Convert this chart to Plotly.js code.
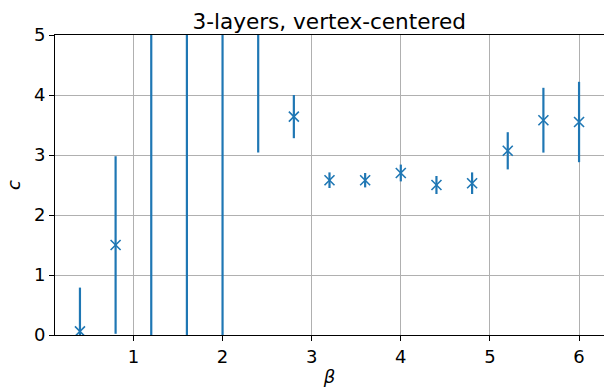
<!DOCTYPE html>
<html>
<head>
<meta charset="utf-8">
<script src="https://cdn.plot.ly/plotly-3.0.1.min.js"></script>
<style>html,body{margin:0;padding:0;background:#fff;}#chart{width:604px;height:392px;}</style>
</head>
<body>
<div id="chart"></div>
<script>
const beta = [0.4, 0.8, 1.2, 1.6, 2.0, 2.4, 2.8, 3.2, 3.6, 4.0, 4.4, 4.8, 5.2, 5.6, 6.0];
const cValues = [0.06, 1.50, 6.0, 6.5, 6.0, 6.5, 3.64, 2.58, 2.58, 2.70, 2.50, 2.53, 3.07, 3.58, 3.55];
const cErrors = [0.73, 1.48, 8.0, 8.0, 8.0, 3.46, 0.36, 0.13, 0.12, 0.14, 0.15, 0.18, 0.31, 0.54, 0.67];
const xTicks = [1, 2, 3, 4, 5, 6];
const yTicks = [0, 1, 2, 3, 4, 5];

const font = "DejaVu Sans, sans-serif";
const blue = "#1f77b4";

Plotly.newPlot("chart", [{
  x: beta,
  y: cValues,
  type: "scatter",
  mode: "markers",
  marker: {symbol: "x-thin-open", size: 10, color: blue, line: {color: blue, width: 1.6}},
  error_y: {type: "data", array: cErrors, symmetric: true, color: blue, thickness: 2.2, width: 0}
}], {
  width: 604, height: 392,
  margin: {l: 55, r: 0, t: 35, b: 57},
  paper_bgcolor: "#fff", plot_bgcolor: "#fff",
  showlegend: false,
  title: {text: "3-layers, vertex-centered", font: {family: font, size: 21.6, color: "#000"}, x: 0.545, xanchor: "center", y: 0.945, yanchor: "middle"},
  xaxis: {
    range: [0.12, 6.28], tickvals: xTicks, ticktext: xTicks.map(String),
    showgrid: true, gridcolor: "#b0b0b0", gridwidth: 1, zeroline: false,
    showline: true, linecolor: "#000", linewidth: 1, mirror: true,
    ticks: "outside", ticklen: 5, tickwidth: 1, tickcolor: "#000",
    tickfont: {family: font, size: 18, color: "#000"},
    title: {text: "<i>β</i>", font: {family: font, size: 18, color: "#000"}, standoff: 4}
  },
  yaxis: {
    range: [0, 5], tickvals: yTicks, ticktext: yTicks.map(String),
    showgrid: true, gridcolor: "#b0b0b0", gridwidth: 1, zeroline: false,
    showline: true, linecolor: "#000", linewidth: 1, mirror: false,
    ticks: "outside", ticklen: 5, tickwidth: 1, tickcolor: "#000",
    tickfont: {family: font, size: 18, color: "#000"},
    title: {text: "<i>c</i>", font: {family: font, size: 18, color: "#000"}, standoff: 8}
  }
}, {displayModeBar: false, staticPlot: true});
</script>
</body>
</html>
